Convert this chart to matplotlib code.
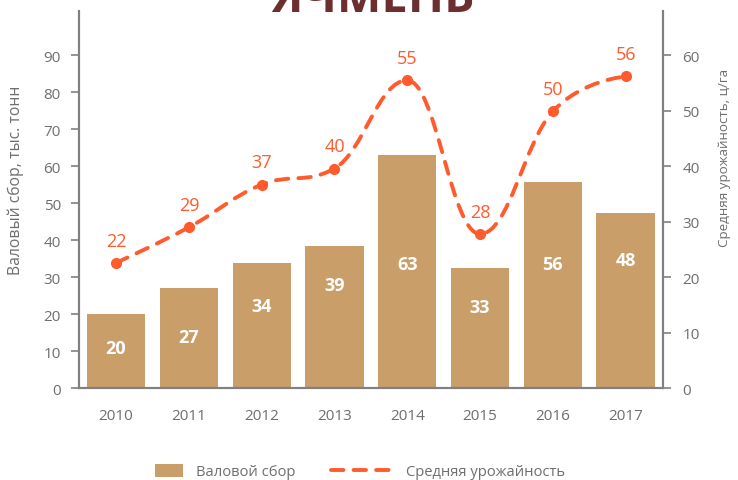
import matplotlib
matplotlib.use("Agg")
import matplotlib.pyplot as plt
from matplotlib.path import Path
from matplotlib.patches import PathPatch, Rectangle
from matplotlib.lines import Line2D
from matplotlib.legend_handler import HandlerPatch

plt.rcParams["font.family"] = ["Open Sans", "DejaVu Sans"]

years = ["2010", "2011", "2012", "2013", "2014", "2015", "2016", "2017"]
harvest = [20.0, 27.0, 33.9, 38.5, 63.0, 32.5, 55.8, 47.4]
harvest_labels = ["20", "27", "34", "39", "63", "33", "56", "48"]
harvest_label_y = [10.8, 13.8, 22.2, 27.9, 33.6, 22.0, 33.6, 34.7]
yield_vals = [22.6, 29.0, 36.7, 39.6, 55.5, 27.8, 49.9, 56.2]
yield_labels = ["22", "29", "37", "40", "55", "28", "50", "56"]

bar_color = "#C99E69"
line_color = "#FF5B2C"
gray = "#6E6E6E"
spine_gray = "#808080"


def spline_path(xs, ys, smoothing=1.5):
    # smooth curve through points, cubic bezier segments
    verts = [(xs[0], ys[0])]
    codes = [Path.MOVETO]
    n = len(xs)
    lc = [None] * n
    rc = [None] * n
    for i in range(n):
        x, y = xs[i], ys[i]
        if 0 < i < n - 1:
            lx, ly = xs[i - 1], ys[i - 1]
            nx, ny = xs[i + 1], ys[i + 1]
            d = smoothing + 1
            lcx = (smoothing * x + lx) / d
            lcy = (smoothing * y + ly) / d
            rcx = (smoothing * x + nx) / d
            rcy = (smoothing * y + ny) / d
            corr = (rcy - lcy) * (rcx - x) / (rcx - lcx) + y - rcy
            lcy += corr
            rcy += corr
            if lcy > ly and lcy > y:
                lcy = max(ly, y)
                rcy = 2 * y - lcy
            elif lcy < ly and lcy < y:
                lcy = min(ly, y)
                rcy = 2 * y - lcy
            if rcy > ny and rcy > y:
                rcy = max(ny, y)
                lcy = 2 * y - rcy
            elif rcy < ny and rcy < y:
                rcy = min(ny, y)
                lcy = 2 * y - rcy
            lc[i] = (lcx, lcy)
            rc[i] = (rcx, rcy)
        else:
            lc[i] = (x, y)
            rc[i] = (x, y)
    for i in range(1, n):
        verts += [rc[i - 1], lc[i], (xs[i], ys[i])]
        codes += [Path.CURVE4] * 3
    return Path(verts, codes)


fig = plt.figure(figsize=(7.38, 4.81), dpi=100)
ax = fig.add_axes([0.107, 0.191, 0.791, 0.784])
ax2 = ax.twinx()

x = list(range(len(years)))
ax.bar(x, harvest, width=0.8, color=bar_color, zorder=2)
for xi, lab, ly in zip(x, harvest_labels, harvest_label_y):
    ax.text(xi, ly, lab, ha="center", va="center", color="white",
            fontsize=13, fontweight="bold", zorder=3)

ax.set_xlim(-0.51, 7.51)
ax.set_ylim(0, 102)
ax.set_yticks(range(0, 100, 10))
ax2.set_ylim(0, 68)
ax2.set_yticks(range(0, 70, 10))
ax.set_xticks(x)
ax.set_xticklabels(years)

path = spline_path(x, yield_vals)
ax2.add_patch(PathPatch(path, facecolor="none", edgecolor=line_color,
                        lw=2.8, linestyle=(0, (3.2, 2.6)), capstyle="round", zorder=4))
ax2.plot(x, yield_vals, "o", color=line_color, markersize=7, zorder=5)
for xi, yv, lab in zip(x, yield_vals, yield_labels):
    ax2.annotate(lab, (xi, yv), xytext=(0, 16), textcoords="offset points",
                 ha="center", va="center", color=line_color, fontsize=13)

for a in (ax, ax2):
    a.spines["top"].set_visible(False)
    for s in ("left", "right", "bottom"):
        a.spines[s].set_color(spine_gray)
        a.spines[s].set_linewidth(1.5)
ax.tick_params(axis="y", colors=spine_gray, labelcolor=gray, labelsize=11, length=6, width=1.2, pad=7)
ax2.tick_params(axis="y", colors=spine_gray, labelcolor=gray, labelsize=11, length=6, width=1.2, pad=8)
ax.tick_params(axis="x", length=0, labelcolor=gray, labelsize=11, pad=14)

ax.set_ylabel("Валовый сбор, тыс. тонн", color=gray, fontsize=11.3)
ax.yaxis.set_label_coords(-0.094, 0.554)
ax2.set_ylabel("Средняя урожайность, ц/га", color=gray, fontsize=9.6)
ax2.yaxis.set_label_coords(1.094, 0.614)

fig.text(0.505, 0.975, "ЯЧМЕНЬ", ha="center", va="baseline", color="#6B2F2F",
         fontsize=34, fontweight="bold")


class NarrowRect(HandlerPatch):
    def create_artists(self, legend, orig_handle, xdescent, ydescent, width, height, fontsize, trans):
        w = width * 0.45
        r = Rectangle((-xdescent + width - w, -ydescent - 1), w, height + 2,
                      facecolor=bar_color, edgecolor="none", transform=trans)
        return [r]


handles = [Rectangle((0, 0), 1, 1, color=bar_color),
           Line2D([], [], color=line_color, lw=2.8, linestyle=(0, (3.2, 2.6)), dash_capstyle="round")]
leg = fig.legend(handles, ["Валовой сбор", "Средняя урожайность"], loc="center",
                 bbox_to_anchor=(0.465, 0.017), ncol=2, frameon=False, fontsize=10.6,
                 handlelength=4.2, handletextpad=0.9, columnspacing=2.4,
                 labelcolor=gray, handler_map={Rectangle: NarrowRect()})

fig.savefig("out.png", dpi=100)
